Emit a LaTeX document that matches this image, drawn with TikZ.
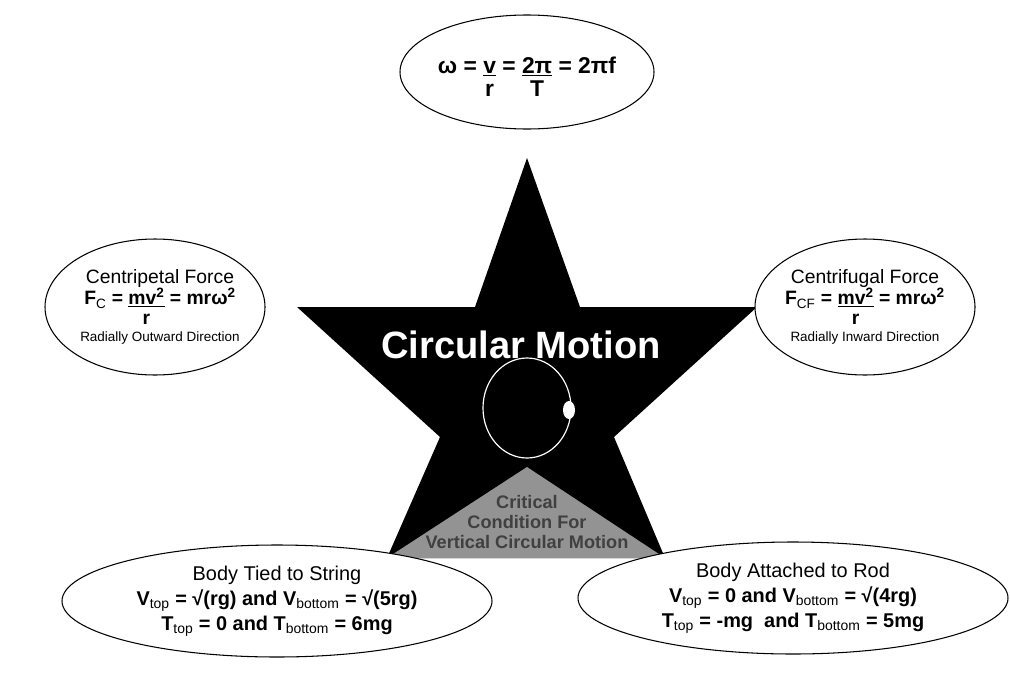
\documentclass[tikz,border=0pt]{standalone}
\usepackage{fontspec}
\setmainfont{Liberation Sans}
\newcommand{\fr}[2]{\begin{tabular}[t]{@{}c@{}}\underline{#1}\\[-2pt]#2\end{tabular}}
\newcommand{\sbs}[1]{\textsubscript{\normalfont #1}}
\begin{document}
\begin{tikzpicture}[x=0.03cm,y=-0.03cm,
  txt/.style={align=center,font=\fontsize{16.5}{19}\selectfont}]
\useasboundingbox (0,0) rectangle (1010,697);
% star
\fill[black] (527,158) -- (580,307) -- (757,307) -- (614,437) -- (665,558) -- (387,558) -- (440,437) -- (297,307) -- (475,307) -- cycle;
\fill[gray!85!white] (527,467) -- (665,558) -- (387,558) -- cycle;
\node[text=black!75,align=center,font=\bfseries\fontsize{15.5}{17}\selectfont] (crit) at (527,522) {Critical\\Condition For\\Vertical Circular Motion};
\node[text=white,font=\bfseries\fontsize{32.5}{36}\selectfont] (title) at (521,345) {Circular Motion};
\draw[white,line width=1pt] (527,408) ellipse (44 and 50);
\fill[white] (569,410) ellipse (6 and 9);
% bubbles
\draw[line width=0.9pt,fill=white] (527,72) ellipse (127 and 57);
\node[txt,font=\bfseries\fontsize{19.5}{22}\selectfont] (top) at (527,80) {ω = \fr{v}{r} = \fr{2π}{T} = 2πf};
\draw[line width=0.9pt,fill=white] (155,307) ellipse (110 and 68);
\node[txt] (cp) at (160,307) {Centripetal Force\\[-1pt] \textbf{F\sbs{C} = \fr{mv\textsuperscript{2}}{r} = mrω\textsuperscript{2}}\\[-1pt] {\fontsize{11.5}{13}\selectfont Radially Outward Direction}};
\draw[line width=0.9pt,fill=white] (865,307) ellipse (110 and 68);
\node[txt] (cf) at (865,307) {Centrifugal Force\\[-1pt] \textbf{F\sbs{CF} = \fr{mv\textsuperscript{2}}{r} = mrω\textsuperscript{2}}\\[-1pt] {\fontsize{11.5}{13}\selectfont Radially Inward Direction}};
\draw[line width=0.9pt,fill=white] (277,601) ellipse (215 and 56);
\node[txt,font=\fontsize{17}{21.5}\selectfont] (str) at (277,601) {Body Tied to String\\ \textbf{V\sbs{top} = √(rg) and V\sbs{bottom} = √(5rg)}\\ \textbf{T\sbs{top} = 0 and T\sbs{bottom} = 6mg}};
\draw[line width=0.9pt,fill=white] (793,598) ellipse (215 and 56);
\node[txt,font=\fontsize{17}{21.5}\selectfont] (rod) at (793,598) {Body Attached to Rod\\ \textbf{V\sbs{top} = 0 and V\sbs{bottom} = √(4rg)}\\ \textbf{T\sbs{top} = -mg\ \ and T\sbs{bottom} = 5mg}};
\end{tikzpicture}
\end{document}
